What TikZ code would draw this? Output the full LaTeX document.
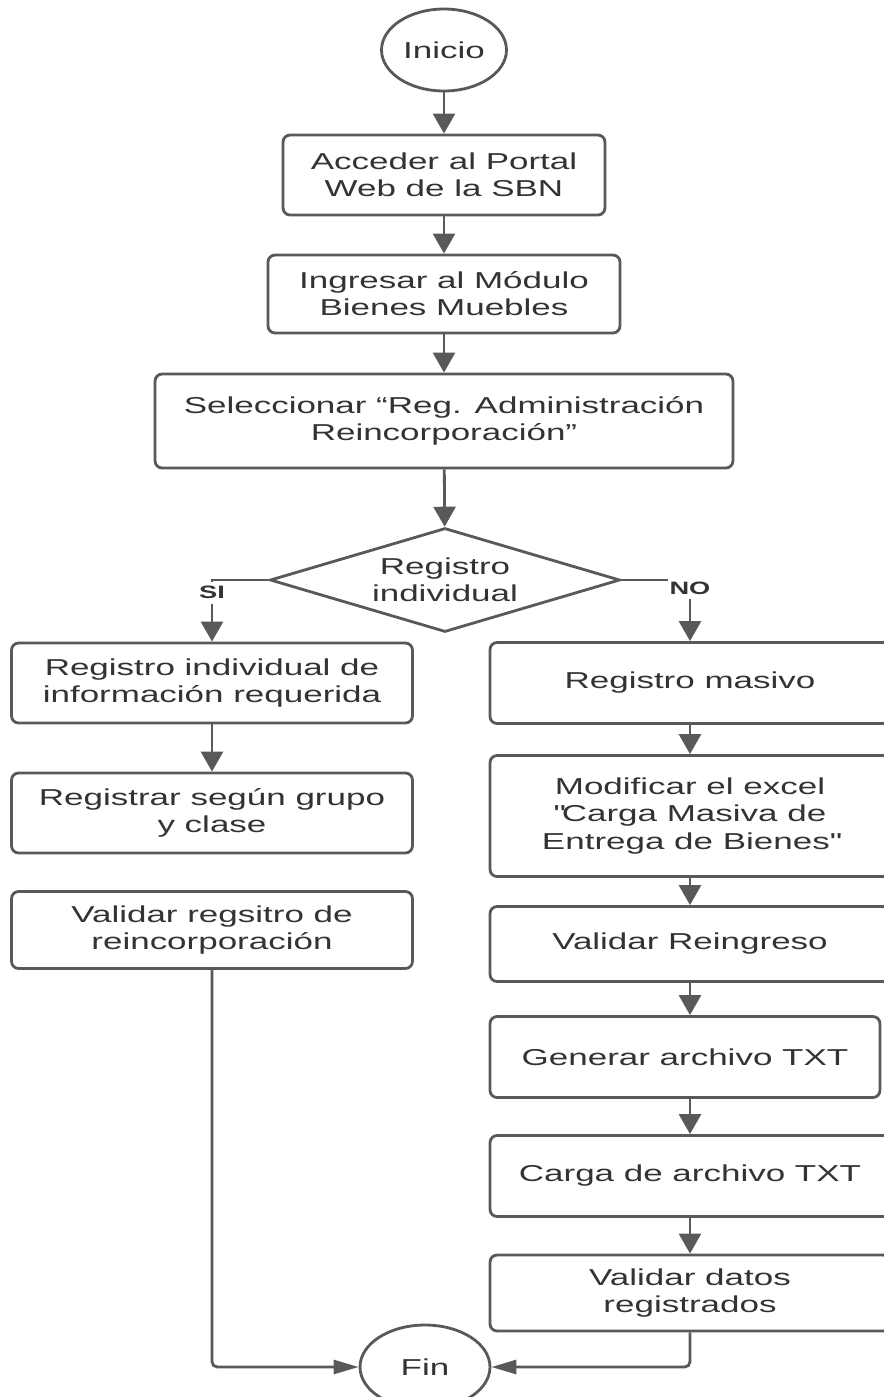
\documentclass[tikz,border=0pt]{standalone}
\usepackage{fontspec}
\setmainfont[FakeStretch=1.52]{Liberation Sans}
\usepackage{tikz}
\usetikzlibrary{shapes.geometric,arrows.meta,positioning}
\definecolor{lgray}{HTML}{595959}
\definecolor{tgray}{HTML}{333333}
\newcommand{\flowfont}{\fontsize{13.1pt}{15.4pt}\selectfont}
\newcommand{\sq}{\XeTeXglyph\XeTeXcharglyph34\relax}
\tikzset{
  pblock/.style={rectangle, rounded corners=4pt, draw=lgray, line width=1.6pt, fill=white, align=center, font=\flowfont, text=tgray, inner sep=2pt},
  tblock/.style={ellipse, draw=lgray, line width=1.6pt, fill=white, font=\flowfont, text=tgray, inner sep=0pt, minimum width=2.5cm, minimum height=1.64cm},
  dblock/.style={diamond, aspect=3.4, draw=lgray, line width=1.6pt, fill=white, align=center, font=\flowfont, text=tgray, inner sep=0pt, minimum width=7cm, minimum height=2.08cm},
  parrow/.style={-{Triangle[length=4mm, width=4.4mm]}, line width=1.6pt, lgray},
  harrow/.style={-{Triangle[length=5mm, width=2.8mm]}, line width=1.6pt, lgray, rounded corners=3pt},
  lbl/.style={fill=white, inner sep=1pt, minimum height=0.44cm, font=\fontsize{10.2pt}{12pt}\selectfont\bfseries, text=tgray}
}

\begin{document}
\begin{tikzpicture}[x=0.02cm, y=-0.02cm]
  \useasboundingbox (0,0) rectangle (883,1397);

  % main column
  \node[tblock] (inicio) at (444,50) {Inicio};
  \node[pblock, minimum width=6.44cm, minimum height=1.6cm] (acceder) at (444,175) {Acceder al Portal\\Web de la SBN};
  \node[pblock, minimum width=7.04cm, minimum height=1.56cm] (ingresar) at (444,294) {Ingresar al Módulo\\Bienes Muebles};
  \node[pblock, minimum width=11.56cm, minimum height=1.88cm] (selec) at (444,421) {Seleccionar “Reg. Administración\\Reincorporación”};
  \node[dblock] (regind) at (445,580) {Registro\\individual};

  % SI branch
  \node[pblock, minimum width=8.02cm, minimum height=1.6cm] (indiv) at (212,683) {Registro individual de\\información requerida};
  \node[pblock, minimum width=8.02cm, minimum height=1.6cm] (grupo) at (212,813) {Registrar según grupo\\y clase};
  \node[pblock, minimum width=8.02cm, minimum height=1.54cm] (valreinc) at (212,930) {Validar regsitro de\\reincorporación};

  % NO branch
  \node[pblock, minimum width=8cm, minimum height=1.62cm] (masivo) at (690,683) {Registro masivo};
  \node[pblock, minimum width=8cm, minimum height=2.42cm] (excel) at (690,816) {Modificar el excel\\\sq Carga Masiva de\\Entrega de Bienes\sq};
  \node[pblock, minimum width=8cm, minimum height=1.5cm] (reingreso) at (690,944) {Validar Reingreso};
  \node[pblock, minimum width=7.8cm, minimum height=1.62cm] (gentxt) at (685,1057) {Generar archivo TXT};
  \node[pblock, minimum width=8cm, minimum height=1.62cm] (cargatxt) at (690,1176) {Carga de archivo TXT};
  \node[pblock, minimum width=8cm, minimum height=1.52cm] (datos) at (690,1293) {Validar datos\\registrados};

  \node[tblock, minimum width=2.6cm, minimum height=1.68cm] (fin) at (425,1367) {Fin};

  \draw[parrow] (inicio) -- (acceder);
  \draw[parrow] (acceder) -- (ingresar);
  \draw[parrow] (ingresar) -- (selec);
  \draw[parrow] (selec) -- (regind);
  \draw[parrow] (regind.west) -| node[lbl, pos=0.603] {SI} (indiv.north);
  \draw[parrow] (regind.east) -| node[lbl, pos=0.564] {NO} (masivo.north);
  \draw[parrow] (indiv) -- (grupo);
  \draw[parrow] (masivo) -- (excel);
  \draw[parrow] (excel) -- (reingreso);
  \draw[parrow] (reingreso.south) -- (reingreso.south |- gentxt.north);
  \draw[parrow] (gentxt.south -| cargatxt.north) -- (cargatxt.north);
  \draw[parrow] (cargatxt) -- (datos);
  \draw[harrow] (valreinc.south) |- (fin.west);
  \draw[harrow] (datos.south) |- (fin.east);
\end{tikzpicture}
\end{document}
